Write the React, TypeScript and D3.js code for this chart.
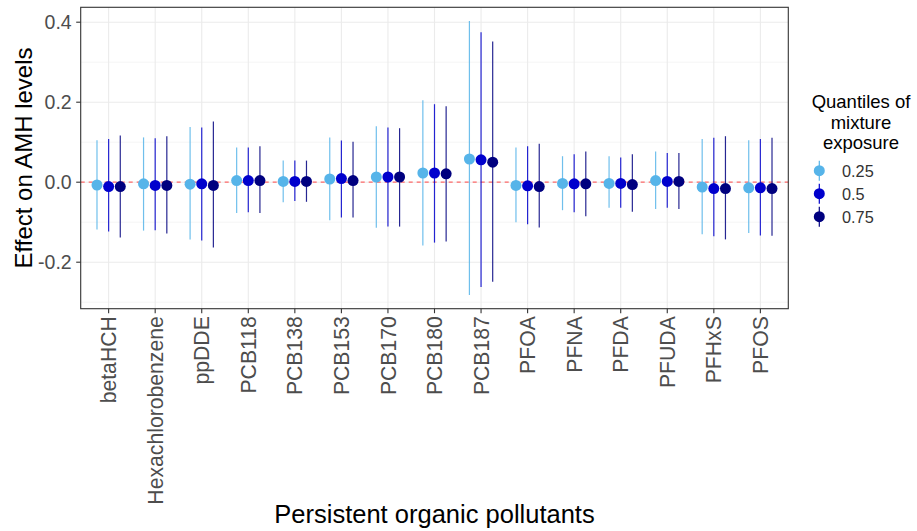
import React from "react";
import * as d3 from "d3";

const categories = ["betaHCH","Hexachlorobenzene","ppDDE","PCB118","PCB138","PCB153","PCB170","PCB180","PCB187","PFOA","PFNA","PFDA","PFUDA","PFHxS","PFOS"];
const quantiles = ["0.25", "0.5", "0.75"];
const colors = ["#56B4E9", "#0000CD", "#00007F"];

const est25 = [-0.007, -0.004, -0.005, 0.004, 0.002, 0.008, 0.013, 0.023, 0.058, -0.008, -0.003, -0.003, 0.004, -0.012, -0.014];
const lo25 = [-0.118, -0.121, -0.143, -0.077, -0.050, -0.095, -0.114, -0.158, -0.282, -0.100, -0.070, -0.064, -0.067, -0.130, -0.127];
const hi25 = [0.105, 0.112, 0.138, 0.087, 0.054, 0.112, 0.140, 0.205, 0.403, 0.087, 0.065, 0.065, 0.077, 0.108, 0.105];

const est50 = [-0.011, -0.008, -0.004, 0.004, 0.002, 0.009, 0.013, 0.023, 0.056, -0.009, -0.004, -0.003, 0.002, -0.016, -0.014];
const lo50 = [-0.123, -0.120, -0.146, -0.075, -0.047, -0.088, -0.111, -0.151, -0.262, -0.105, -0.075, -0.064, -0.064, -0.135, -0.133];
const hi50 = [0.108, 0.110, 0.137, 0.087, 0.054, 0.104, 0.137, 0.195, 0.375, 0.090, 0.070, 0.062, 0.073, 0.111, 0.108];

const est75 = [-0.011, -0.008, -0.008, 0.004, 0.002, 0.004, 0.013, 0.021, 0.050, -0.011, -0.004, -0.006, 0.002, -0.016, -0.016];
const lo75 = [-0.138, -0.128, -0.163, -0.077, -0.049, -0.088, -0.111, -0.148, -0.249, -0.113, -0.085, -0.074, -0.067, -0.143, -0.134];
const hi75 = [0.117, 0.115, 0.152, 0.090, 0.054, 0.101, 0.135, 0.190, 0.352, 0.096, 0.077, 0.070, 0.073, 0.115, 0.111];

const yTicks = [-0.2, 0.0, 0.2, 0.4];
const yMinor = [-0.3, -0.1, 0.1, 0.3];

const series = [
  { est: est25, lo: lo25, hi: hi25 },
  { est: est50, lo: lo50, hi: hi50 },
  { est: est75, lo: lo75, hi: hi75 },
];

const W = 917, H = 531;
const P = { left: 80.7, right: 788.3, top: 7.3, bottom: 308.7 };
const FONT = "'Liberation Sans', Arial, sans-serif";

export default function App() {
  const allLo = d3.min([...lo25, ...lo50, ...lo75]) as number;
  const allHi = d3.max([...hi25, ...hi50, ...hi75]) as number;
  const pad = (allHi - allLo) * 0.05;
  const y = d3.scaleLinear().domain([allLo - pad, allHi + pad]).range([P.bottom, P.top]);
  const x = d3.scalePoint<string>().domain(categories).range([P.left, P.right]).padding(0.6);
  const step = x.step();
  const offsets = [-0.25 * step, 0, 0.25 * step];

  return (
    <svg width={W} height={H} style={{ position: "absolute", left: 0, top: 0, background: "#fff" }} fontFamily={FONT}>
      <rect x={0} y={0} width={W} height={H} fill="#fff" />
      {/* grid */}
      {yMinor.map((t) => (
        <line key={"mn" + t} x1={P.left} x2={P.right} y1={y(t)} y2={y(t)} stroke="#F2F2F2" strokeWidth={0.8} />
      ))}
      {yTicks.map((t) => (
        <line key={"mj" + t} x1={P.left} x2={P.right} y1={y(t)} y2={y(t)} stroke="#EBEBEB" strokeWidth={1.1} />
      ))}
      {categories.map((c) => (
        <line key={"vg" + c} x1={x(c)} x2={x(c)} y1={P.top} y2={P.bottom} stroke="#EBEBEB" strokeWidth={1.1} />
      ))}
      {/* zero line */}
      <line x1={P.left} x2={P.right} y1={y(0)} y2={y(0)} stroke="#FF5050" strokeOpacity={0.85} strokeWidth={1.3} strokeDasharray="4,4" />
      {/* error bars and points */}
      {series.map((s, si) => (
        <g key={"s" + si}>
          {categories.map((c, i) => (
            <line key={"l" + c} x1={(x(c) as number) + offsets[si]} x2={(x(c) as number) + offsets[si]}
              y1={y(s.lo[i])} y2={y(s.hi[i])} stroke={colors[si]} strokeWidth={1.2} strokeOpacity={0.85} />
          ))}
        </g>
      ))}
      {series.map((s, si) => (
        <g key={"p" + si}>
          {categories.map((c, i) => (
            <circle key={"c" + c} cx={(x(c) as number) + offsets[si]} cy={y(s.est[i])} r={5.5} fill={colors[si]} />
          ))}
        </g>
      ))}
      {/* panel border */}
      <rect x={P.left} y={P.top} width={P.right - P.left} height={P.bottom - P.top} fill="none" stroke="#333333" strokeWidth={1.1} />
      {/* y axis */}
      {yTicks.map((t) => (
        <g key={"yt" + t}>
          <line x1={P.left - 4.5} x2={P.left} y1={y(t)} y2={y(t)} stroke="#333333" strokeWidth={1.1} />
          <text x={P.left - 9} y={y(t)} dy="0.36em" textAnchor="end" fontSize={19.5} fill="#4D4D4D">
            {d3.format(".1f")(t).replace("−", "-")}
          </text>
        </g>
      ))}
      {/* x axis */}
      {categories.map((c) => (
        <g key={"xt" + c}>
          <line x1={x(c)} x2={x(c)} y1={P.bottom} y2={P.bottom + 4.5} stroke="#333333" strokeWidth={1.1} />
          <text transform={`translate(${x(c)},${P.bottom + 7.5}) rotate(-90)`} dy="0.36em" textAnchor="end" fontSize={21.2} fill="#4D4D4D">
            {c}
          </text>
        </g>
      ))}
      {/* axis titles */}
      <text x={(P.left + P.right) / 2} y={523} textAnchor="middle" fontSize={25.5} fill="#000">Persistent organic pollutants</text>
      <text transform={`translate(32,${(P.top + P.bottom) / 2}) rotate(-90)`} textAnchor="middle" fontSize={24} fill="#000">Effect on AMH levels</text>
      {/* legend */}
      <g>
        {["Quantiles of", "mixture", "exposure"].map((t, i) => (
          <text key={t} x={861} y={108.3 + i * 20.5} textAnchor="middle" fontSize={18.5} fill="#000">{t}</text>
        ))}
        {quantiles.map((q, i) => (
          <g key={q}>
            <line x1={819.3} x2={819.3} y1={170.7 + i * 23 - 10} y2={170.7 + i * 23 + 10} stroke={colors[i]} strokeWidth={1.2} />
            <circle cx={819.3} cy={170.7 + i * 23} r={5.5} fill={colors[i]} />
            <text x={842} y={170.7 + i * 23} dy="0.36em" fontSize={16.3} fill="#333333">{q}</text>
          </g>
        ))}
      </g>
    </svg>
  );
}
